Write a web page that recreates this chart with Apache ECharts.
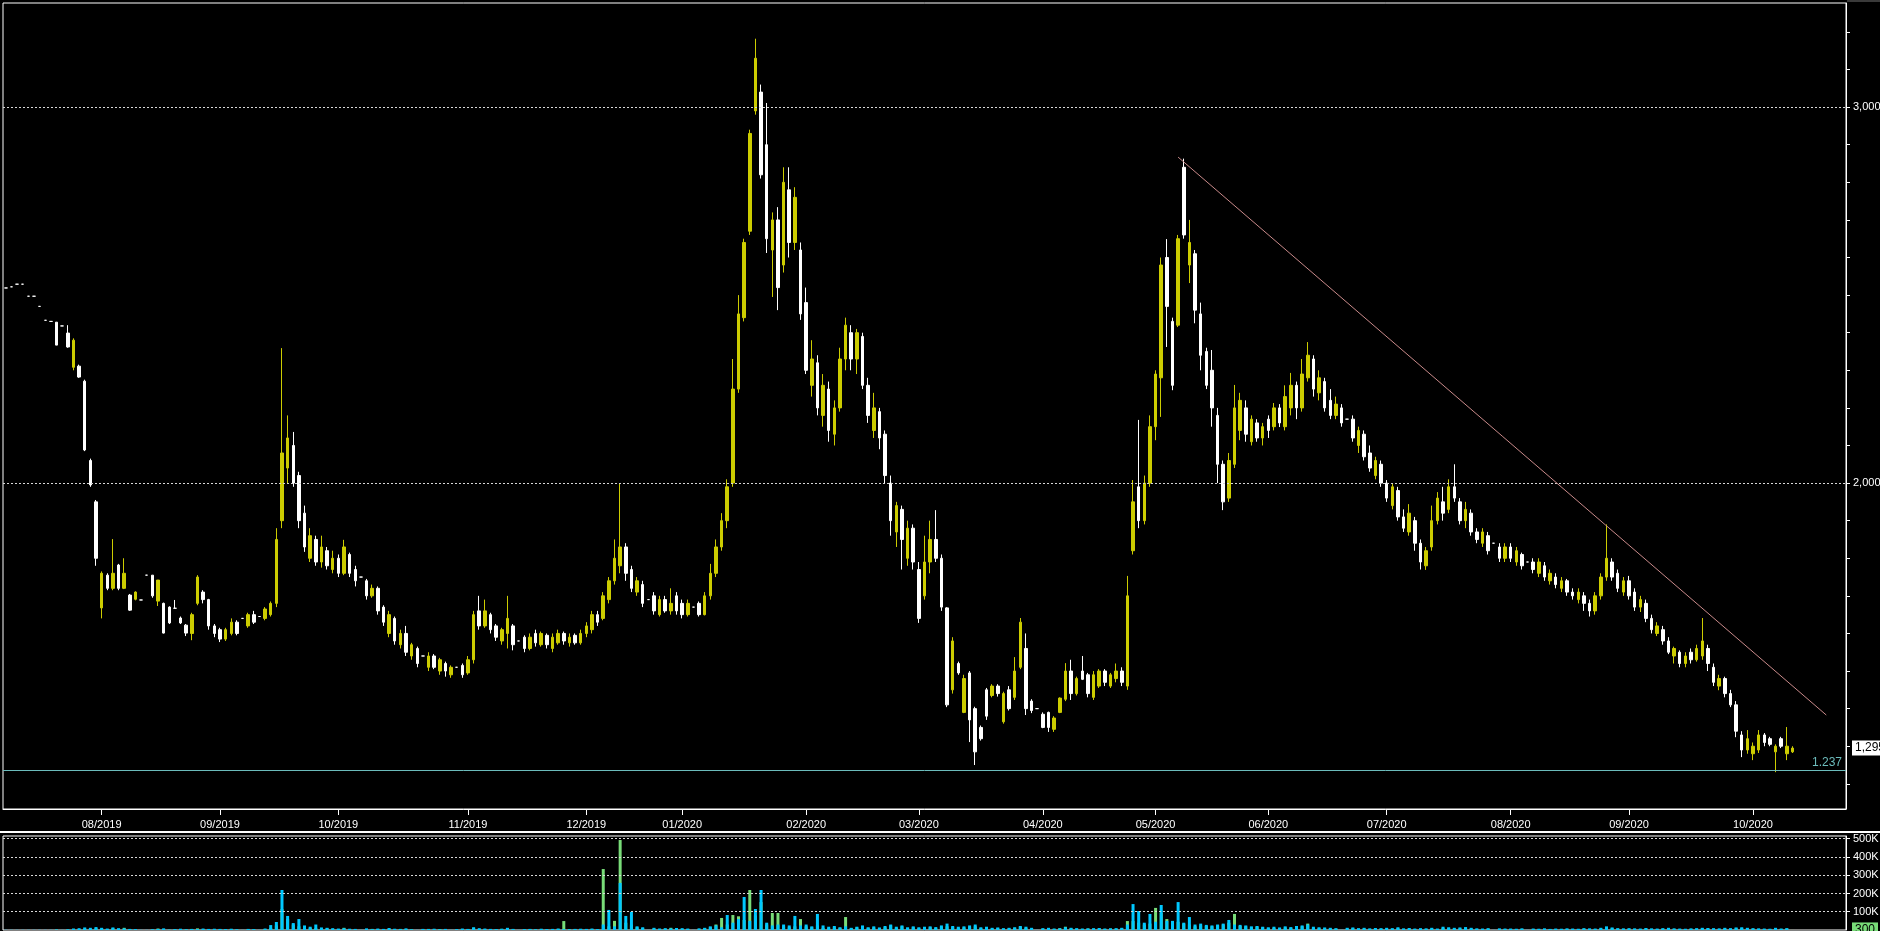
<!DOCTYPE html>
<html><head><meta charset="utf-8">
<script src="https://cdn.jsdelivr.net/npm/echarts@6/dist/echarts.min.js"></script>
<style>html,body{margin:0;padding:0;background:#000;overflow:hidden}#c{width:1880px;height:931px}</style>
</head><body><div id="c"></div>
<script>
const monthLabels = ['07/2019','08/2019','09/2019','10/2019','11/2019','12/2019','01/2020','02/2020','03/2020','04/2020','05/2020','06/2020','07/2020','08/2020','09/2020','10/2020'];
const barsPerMonth = [17,21,21,23,21,17,22,20,22,20,20,21,22,21,22,17];

// [open, close, low, high]
const ohlc = [
// 07/2019
[2519,2519,2519,2519],[2522,2522,2522,2522],[2529,2529,2529,2529],[2529,2529,2529,2529],[2497,2497,2497,2497],
[2497,2497,2497,2497],[2470,2470,2470,2470],[2433,2433,2433,2433],[2430,2430,2430,2430],[2428,2367,2367,2428],
[2418,2418,2418,2418],[2399,2362,2360,2420],[2308,2380,2300,2385],[2311,2282,2280,2315],[2271,2088,2085,2275],
[2060,1995,1990,2065],[1950,1800,1780,1955],
// 08/2019
[1668,1760,1640,1765],[1755,1720,1715,1760],[1720,1760,1715,1851],[1782,1720,1715,1785],[1720,1760,1718,1800],
[1702,1662,1660,1705],[1691,1710,1688,1712],[1689,1689,1689,1689],[1755,1755,1755,1755],[1755,1700,1695,1755],
[1686,1742,1673,1742],[1680,1601,1600,1682],[1670,1628,1625,1672],[1667,1667,1667,1689],[1641,1628,1625,1645],
[1622,1601,1593,1625],[1600,1650,1582,1655],[1680,1750,1675,1755],[1710,1690,1680,1715],[1690,1620,1610,1692],
[1620,1600,1590,1625],
// 09/2019
[1610,1585,1577,1615],[1585,1610,1580,1615],[1600,1630,1595,1640],[1630,1600,1595,1635],[1640,1640,1640,1640],
[1620,1650,1615,1655],[1650,1630,1625,1660],[1645,1645,1645,1645],[1640,1665,1635,1670],[1650,1680,1645,1685],
[1680,1850,1670,1880],[1900,2080,1880,2359],[2040,2120,2000,2180],[2100,2000,1990,2136],[2020,1900,1880,2030],
[1920,1830,1817,1940],[1800,1860,1790,1880],[1850,1790,1780,1860],[1790,1830,1775,1860],[1820,1780,1770,1830],
[1770,1800,1760,1820],
// 10/2019
[1800,1760,1750,1810],[1760,1830,1755,1849],[1810,1760,1750,1815],[1770,1740,1725,1780],[1750,1750,1750,1750],
[1740,1700,1690,1745],[1700,1720,1695,1730],[1720,1660,1650,1725],[1670,1630,1620,1675],[1600,1650,1590,1660],
[1640,1580,1570,1645],[1570,1600,1560,1610],[1600,1550,1540,1620],[1540,1570,1530,1575],[1560,1520,1510,1565],
[1540,1540,1540,1540],[1510,1540,1500,1550],[1540,1510,1505,1545],[1500,1530,1490,1535],[1520,1500,1485,1525],
[1490,1510,1482,1515],[1510,1510,1510,1510],[1515,1490,1482,1520],
// 11/2019
[1495,1530,1490,1540],[1530,1650,1520,1660],[1660,1620,1610,1700],[1620,1660,1615,1690],[1650,1610,1600,1655],
[1620,1590,1580,1625],[1580,1610,1570,1615],[1600,1640,1560,1700],[1620,1570,1555,1625],[1580,1580,1580,1580],
[1590,1560,1550,1595],[1560,1590,1555,1600],[1600,1575,1565,1610],[1570,1600,1565,1605],[1595,1570,1560,1600],
[1560,1590,1550,1600],[1575,1600,1570,1610],[1600,1580,1570,1605],[1575,1590,1565,1600],[1595,1575,1570,1600],
[1575,1600,1570,1610],
// 12/2019
[1600,1620,1590,1630],[1610,1650,1600,1660],[1650,1630,1620,1660],[1640,1700,1635,1710],[1690,1740,1680,1750],
[1740,1800,1730,1850],[1780,1830,1760,1998],[1830,1760,1740,1840],[1770,1720,1710,1780],[1710,1740,1700,1750],
[1730,1680,1670,1740],[1690,1690,1690,1690],[1700,1660,1650,1710],[1650,1690,1645,1700],[1690,1660,1655,1700],
[1660,1680,1650,1720],[1700,1660,1650,1710],
// 01/2020
[1680,1650,1640,1690],[1650,1680,1645,1690],[1670,1670,1670,1670],[1680,1650,1645,1685],[1650,1700,1648,1710],
[1700,1760,1690,1785],[1760,1830,1750,1850],[1830,1900,1820,1920],[1900,1990,1880,2010],[2000,2250,1990,2330],
[2250,2450,2240,2500],[2440,2640,2430,2650],[2670,2930,2660,2940],[2990,3130,2980,3182],[3040,2820,2810,3060],
[2900,2650,2612,3011],[2620,2700,2495,2720],[2700,2520,2460,2734],[2580,2800,2560,2840],[2780,2640,2600,2840],
[2640,2760,2620,2787],[2620,2450,2434,2640],
// 02/2020
[2480,2300,2290,2520],[2260,2330,2230,2380],[2320,2200,2180,2340],[2180,2260,2150,2290],[2250,2140,2110,2270],
[2130,2200,2100,2220],[2200,2330,2190,2360],[2330,2420,2300,2440],[2400,2330,2300,2420],[2330,2400,2290,2410],
[2390,2260,2250,2400],[2260,2180,2160,2280],[2140,2200,2120,2240],[2190,2120,2090,2200],[2130,2020,2000,2140],
[2000,1900,1860,2020],[1870,1940,1830,1950],[1930,1850,1770,1940],[1800,1880,1780,1900],[1880,1790,1770,1890],
// 03/2020
[1770,1640,1628,1790],[1700,1790,1690,1860],[1790,1850,1760,1900],[1850,1800,1790,1928],[1800,1670,1660,1810],
[1668,1410,1404,1670],[1450,1580,1440,1590],[1520,1495,1490,1525],[1390,1480,1388,1490],[1495,1370,1311,1500],
[1400,1285,1250,1405],[1350,1320,1315,1355],[1450,1380,1370,1455],[1435,1460,1430,1465],[1460,1440,1432,1465],
[1365,1440,1360,1445],[1450,1400,1395,1460],[1430,1500,1423,1537],[1510,1630,1505,1641],[1560,1400,1383,1600],
[1420,1395,1388,1425],[1400,1400,1400,1400],
// 04/2020
[1385,1350,1348,1390],[1390,1350,1338,1392],[1345,1375,1338,1380],[1390,1428,1388,1430],[1425,1500,1420,1521],
[1500,1440,1423,1530],[1440,1480,1435,1485],[1500,1478,1476,1540],[1490,1440,1430,1495],[1430,1490,1423,1500],
[1460,1500,1455,1505],[1500,1470,1460,1505],[1460,1490,1455,1495],[1480,1500,1470,1520],[1500,1470,1460,1510],
[1460,1700,1450,1753],[1820,1950,1810,2008],[1990,1900,1880,2168],[1900,2000,1890,2020],[2000,2150,1990,2180],
// 05/2020
[2150,2290,2114,2300],[2280,2580,2176,2600],[2600,2470,2362,2649],[2430,2260,2247,2440],[2420,2650,2415,2660],
[2840,2660,2650,2863],[2580,2640,2532,2700],[2610,2460,2425,2620],[2450,2340,2300,2480],[2350,2260,2250,2360],
[2300,2200,2150,2354],[2180,2050,2000,2200],[2050,1950,1928,2060],[1960,2060,1950,2080],[2050,2200,2040,2261],
[2140,2220,2114,2240],[2200,2130,2110,2220],[2110,2170,2100,2180],[2160,2120,2110,2170],[2120,2150,2100,2160],
// 06/2020
[2170,2140,2120,2180],[2150,2200,2140,2213],[2200,2160,2149,2210],[2150,2230,2140,2260],[2200,2260,2180,2293],
[2260,2200,2170,2270],[2200,2290,2190,2330],[2280,2340,2270,2375],[2330,2250,2230,2340],[2240,2280,2220,2300],
[2270,2200,2190,2280],[2220,2180,2170,2250],[2180,2210,2170,2230],[2200,2160,2150,2210],[2170,2170,2170,2170],
[2170,2120,2110,2180],[2100,2140,2080,2150],[2130,2070,2060,2140],[2080,2040,2030,2100],[2020,2060,2010,2070],
[2050,2000,1990,2060],
// 07/2020
[2000,1960,1950,2008],[1940,1990,1930,2000],[1980,1910,1900,1990],[1910,1880,1870,1930],[1870,1920,1860,1944],
[1900,1840,1820,1910],[1840,1790,1770,1850],[1780,1820,1769,1830],[1830,1900,1820,1940],[1900,1960,1890,1976],
[1950,1920,1900,1990],[1930,1990,1920,2010],[1990,1960,1950,2050],[1950,1900,1890,1960],[1900,1930,1880,1950],
[1920,1870,1860,1930],[1870,1850,1840,1880],[1840,1870,1830,1880],[1860,1820,1810,1870],[1840,1840,1840,1840],
[1830,1800,1790,1840],[1800,1830,1790,1840],
// 08/2020
[1830,1800,1790,1840],[1790,1820,1780,1830],[1810,1780,1770,1815],[1790,1790,1790,1790],[1790,1770,1760,1800],
[1760,1790,1750,1800],[1780,1750,1740,1790],[1740,1760,1730,1770],[1750,1730,1720,1760],[1720,1740,1710,1750],
[1740,1710,1700,1745],[1710,1700,1690,1720],[1690,1710,1680,1720],[1700,1680,1660,1710],[1680,1660,1645,1690],
[1660,1700,1650,1710],[1700,1750,1690,1760],[1750,1800,1740,1890],[1790,1750,1740,1800],[1760,1720,1710,1770],
[1710,1740,1700,1750],
// 09/2020
[1740,1700,1690,1753],[1710,1670,1660,1720],[1670,1690,1657,1700],[1680,1640,1630,1690],[1640,1610,1600,1650],
[1600,1620,1593,1630],[1610,1580,1570,1620],[1580,1550,1545,1590],[1540,1560,1520,1565],[1550,1520,1510,1555],
[1520,1540,1510,1550],[1550,1530,1520,1560],[1530,1560,1525,1570],[1540,1580,1530,1641],[1560,1520,1500,1570],
[1510,1470,1460,1520],[1460,1480,1449,1490],[1480,1440,1430,1485],[1440,1410,1404,1450],[1410,1340,1324,1420],
[1330,1290,1271,1340],[1290,1320,1280,1343],
// 10/2020
[1280,1300,1263,1310],[1290,1330,1282,1343],[1330,1310,1300,1335],[1320,1305,1300,1325],[1285,1300,1231,1305],
[1320,1300,1295,1325],[1280,1300,1263,1351],[1285,1295,1282,1300]
];

// volume in thousands
const volCyan = [
1,1,1,1,1,1,1,1,1,3,1,4,8,10,14,12,16,
12,8,14,10,9,6,5,1,1,4,6,9,2,5,7,4,6,5,8,6,7,
6,5,7,4,1,6,5,1,8,27,44,219,77,38,60,25,18,30,14,12,10,
8,10,7,6,1,9,5,8,6,11,7,5,9,4,1,6,5,7,4,6,1,5,8,
6,15,10,8,6,5,7,12,6,1,5,6,4,7,5,6,8,5,4,6,7,
6,8,5,30,110,20,258,77,99,20,15,1,12,8,10,9,11,
10,8,1,9,12,20,25,15,82,40,60,181,50,115,219,40,25,30,30,25,77,25,
30,20,88,25,18,22,15,20,12,18,25,15,20,14,22,30,18,25,15,20,
15,18,20,16,25,35,22,18,20,25,30,15,18,12,14,10,12,15,22,18,12,1,
10,12,8,9,15,12,10,8,9,10,11,8,9,10,12,30,142,104,40,88,
45,137,50,50,153,40,71,30,35,28,25,30,35,55,30,28,25,20,22,18,
15,18,14,20,16,22,25,30,18,15,14,12,10,1,12,14,10,12,9,11,10,
12,10,15,9,11,8,10,9,12,8,18,15,12,14,16,12,9,8,10,1,9,8,
8,7,9,1,8,7,9,6,8,7,9,8,7,10,9,8,12,20,14,10,9,
10,9,8,11,9,8,10,12,9,8,7,9,10,12,11,10,9,12,10,14,15,12,
10,9,8,7,12,8,10,0
];
const volGreen = [
0,0,0,0,0,0,0,0,0,2,0,2,6,5,8,6,10,
8,5,10,6,12,4,3,0,0,2,8,5,1,3,4,3,5,9,4,3,4,
3,4,5,2,0,4,3,0,5,10,25,115,60,30,20,15,12,10,8,9,6,
5,12,4,3,0,5,6,4,3,7,4,6,5,3,0,4,6,3,5,4,0,3,5,
5,12,6,4,3,4,6,9,4,0,3,5,3,4,3,5,6,49,4,5,4,
4,5,3,334,20,50,493,40,30,15,10,0,8,6,7,12,8,
6,5,0,6,10,15,30,66,30,82,75,55,219,80,153,30,93,93,20,15,20,60,
20,15,25,12,10,15,12,71,10,14,18,12,14,10,15,25,12,20,10,15,
10,12,15,10,18,20,15,12,14,18,20,10,12,8,10,7,9,12,18,12,8,0,
7,8,6,10,18,9,7,6,8,7,9,6,8,7,9,49,49,40,30,35,
121,93,60,40,45,35,30,20,25,22,20,25,30,40,88,22,20,15,18,14,
10,12,9,14,12,15,20,35,12,10,9,8,7,0,8,10,7,8,6,8,7,
8,7,10,6,8,5,7,6,8,5,12,10,8,9,12,8,6,5,7,0,6,5,
5,5,6,0,5,4,6,4,5,5,6,5,4,7,6,5,8,15,10,7,6,
7,6,5,8,6,5,7,8,6,5,5,6,7,9,8,7,6,8,7,10,10,8,
7,6,5,5,9,6,8,0.3
];

const priceTicks = [1200,1300,1400,1500,1600,1700,1800,1900,2000,2100,2200,2300,2400,2500,2600,2700,2800,2900,3000,3100,3200];
const priceLabels = [2000, 3000];
const volTicks = [100, 200, 300, 400, 500];
const supportLevel = 1237;
const trendStart = [208, 2867];
const trendEnd = [323, 1383];

const categories = [];
monthLabels.forEach((m, mi) => {
  for (let k = 0; k < barsPerMonth[mi]; k++) categories.push(m + '-' + (k + 1));
});
const isMonthStart = (idx, val) => idx > 0 && /-1$/.test(val);
const lastClose = ohlc[ohlc.length - 1][1];
const lastVol = volGreen[volGreen.length - 1];
const hiddenLine = {width: 0, color: 'rgba(0,0,0,0)'};

const FONT = 'Liberation Sans';
const chart = echarts.init(document.getElementById('c'), null, {renderer: 'canvas'});
chart.setOption({
  backgroundColor: '#000',
  animation: false,
  textStyle: {fontFamily: FONT},
  grid: [
    {left: 3, top: 3, width: 1843, height: 806, show: true, borderColor: '#fff', borderWidth: 1, backgroundColor: 'transparent', containLabel: false, outerBoundsMode: 'none'},
    {left: 3, top: 836, width: 1843, height: 94, show: true, borderColor: '#fff', borderWidth: 1, backgroundColor: 'transparent', containLabel: false, outerBoundsMode: 'none'}
  ],
  xAxis: [
    {gridIndex: 0, type: 'category', data: categories, boundaryGap: true,
     axisLine: {show: true, lineStyle: {color: '#fff'}},
     axisTick: {show: true, alignWithLabel: true, interval: isMonthStart, length: 6, lineStyle: {color: '#fff'}},
     axisLabel: {interval: isMonthStart, color: '#fff', fontSize: 11, fontFamily: FONT, margin: 10, formatter: v => v.split('-')[0]},
     splitLine: {show: false}},
    {gridIndex: 1, type: 'category', data: categories, boundaryGap: true,
     axisLine: {show: false}, axisTick: {show: false}, axisLabel: {show: false}, splitLine: {show: false}}
  ],
  yAxis: [
    {gridIndex: 0, type: 'value', position: 'right', min: 1133, max: 3277,
     axisLine: {show: true, lineStyle: {color: '#fff'}},
     axisTick: {show: true, customValues: priceTicks, length: 4, lineStyle: {color: '#fff'}},
     axisLabel: {customValues: priceLabels, color: '#fff', fontSize: 11, fontFamily: FONT, margin: 7, formatter: v => v.toLocaleString('en-US')},
     splitLine: {show: false}},
    {gridIndex: 1, type: 'value', position: 'right', min: 0, max: 515,
     axisLine: {show: true, lineStyle: {color: '#fff'}},
     axisTick: {show: true, customValues: volTicks, length: 4, lineStyle: {color: '#fff'}},
     axisLabel: {customValues: volTicks, color: '#fff', fontSize: 11, fontFamily: FONT, margin: 7, formatter: v => v + 'K'},
     splitLine: {show: false}}
  ],
  graphic: [
    {type: 'rect', shape: {x: 0, y: 831, width: 1880, height: 2}, style: {fill: '#fff'}, silent: true},
    {type: 'rect', shape: {x: 1847, y: 0, width: 33, height: 2}, style: {fill: '#3a3a3a'}, silent: true}
  ],
  series: [
    {type: 'candlestick', xAxisIndex: 0, yAxisIndex: 0, data: ohlc, barWidth: 3,
     itemStyle: {color: '#cccc00', color0: '#ffffff', borderColor: '#cccc00', borderColor0: '#ffffff', borderColorDoji: '#ffffff', borderWidth: 1},
     markLine: {silent: true, symbol: ['none', 'none'], animation: false,
       data: [
         {yAxis: priceLabels[0], lineStyle: {color: '#d8d8d8', type: [2, 2], width: 1}, label: {show: false}},
         {yAxis: priceLabels[1], lineStyle: {color: '#d8d8d8', type: [2, 2], width: 1}, label: {show: false}},
         {yAxis: supportLevel, lineStyle: {color: '#6cbcbc', type: 'solid', width: 1},
          label: {show: true, position: 'insideEndTop', formatter: '1.237', color: '#6cbcbc', fontSize: 12, fontFamily: FONT, distance: [4, 1]}},
         {yAxis: lastClose, lineStyle: hiddenLine,
          label: {show: true, position: 'end', formatter: lastClose.toLocaleString('en-US'), backgroundColor: '#fff', color: '#000', fontSize: 12, fontFamily: FONT, padding: [2, 3, 1, 3], distance: 6}},
         [{coord: trendStart, lineStyle: {color: '#c98a8a', type: 'solid', width: 1}, label: {show: false}}, {coord: trendEnd}]
       ]}
    },
    {type: 'bar', xAxisIndex: 1, yAxisIndex: 1, data: volGreen, barWidth: 3, barGap: '-100%',
     itemStyle: {color: '#78dc78'},
     markLine: {silent: true, symbol: ['none', 'none'], animation: false,
       data: volTicks.map(v => ({yAxis: v, lineStyle: {color: '#d8d8d8', type: [2, 2], width: 1}, label: {show: false}})).concat([
         {yAxis: lastVol, lineStyle: hiddenLine,
          label: {show: true, position: 'end', formatter: String(Math.round(lastVol * 1000)), backgroundColor: '#78dc78', color: '#000', fontSize: 12, fontFamily: FONT, padding: [2, 3, 1, 3], distance: 6}}
       ])}
    },
    {type: 'bar', xAxisIndex: 1, yAxisIndex: 1, data: volCyan, barWidth: 3, barGap: '-100%',
     itemStyle: {color: '#00c8ff'}}
  ]
});
</script>
</body></html>
